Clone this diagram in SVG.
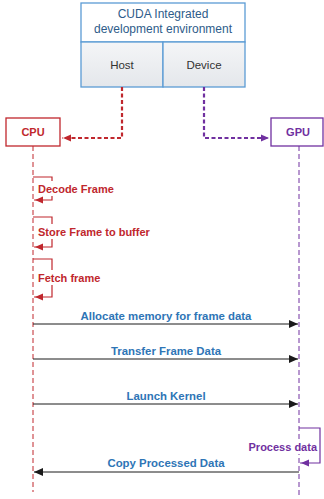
<svg xmlns="http://www.w3.org/2000/svg" width="324" height="499" viewBox="0 0 324 499">
<defs>
<linearGradient id="cellg" x1="0" y1="0" x2="0" y2="1"><stop offset="0" stop-color="#f4f5f7"/><stop offset="1" stop-color="#e4e7eb"/></linearGradient>
<marker id="arrB" markerWidth="10" markerHeight="8" refX="9" refY="4" orient="auto" markerUnits="userSpaceOnUse"><path d="M0,0 L9,4 L0,8 Z" fill="#1a1a1a"/></marker>
<marker id="arrR" markerWidth="10" markerHeight="8" refX="9" refY="4" orient="auto" markerUnits="userSpaceOnUse"><path d="M0,0.5 L8,4 L0,7.5 Z" fill="#c0272d"/></marker>
<marker id="arrP" markerWidth="10" markerHeight="8" refX="9" refY="4" orient="auto" markerUnits="userSpaceOnUse"><path d="M0,0.5 L8,4 L0,7.5 Z" fill="#7030a0"/></marker>
</defs>
<style>
text{font-family:"Liberation Sans",Arial,sans-serif;}
.box{fill:#fff;stroke:#5b9bd5;stroke-width:1.3;}
.cell{fill:url(#cellg);stroke:#5b9bd5;stroke-width:1.3;}
.hdr{font-size:12px;fill:#2e5c8a;text-anchor:middle;}
.cl{font-size:11.5px;fill:#333;text-anchor:middle;}
.red{stroke:#c0272d;fill:none;}
.pur{stroke:#7030a0;fill:none;}
.rt{font-size:11px;font-weight:bold;fill:#c0272d;}
.pt{font-size:11px;font-weight:bold;fill:#7030a0;}
.bt{font-size:11.4px;font-weight:bold;fill:#2e75b6;text-anchor:middle;}
.msg{stroke:#1a1a1a;stroke-width:1;fill:none;}
.bg{fill:#fff;}
</style>
<g id="ide">
<rect class="box" x="81" y="3" width="164" height="39"/>
<rect class="cell" x="81" y="42" width="82" height="45"/>
<rect class="cell" x="163" y="42" width="82" height="45"/>
<text class="hdr" x="163" y="18">CUDA Integrated</text>
<text class="hdr" x="163" y="33">development environment</text>
<text class="cl" x="122" y="69">Host</text>
<text class="cl" x="204" y="69">Device</text>
</g>
<g id="cpu">
<rect x="6" y="118" width="54" height="28" fill="#fff" stroke="#c0272d" stroke-width="1.3"/>
<text x="33" y="136" text-anchor="middle" class="rt" style="font-size:11px">CPU</text>
</g>
<g id="gpu">
<rect x="271" y="118" width="52" height="28" fill="#fff" stroke="#7030a0" stroke-width="1.3"/>
<text x="298" y="136" text-anchor="middle" class="pt" style="font-size:11px">GPU</text>
</g>
<g id="connectors">
<path class="red" d="M122,87 V138 H62" stroke-width="2.2" stroke-dasharray="4,2.5" marker-end="url(#arrR)"/>
<path class="pur" d="M204,87 V138 H270" stroke-width="2.2" stroke-dasharray="4,2.5" marker-end="url(#arrP)"/>
<line class="red" x1="33" y1="146" x2="33" y2="492" stroke-width="1" stroke-dasharray="5,3"/>
<line class="pur" x1="299" y1="146" x2="299" y2="496" stroke-width="1" stroke-dasharray="5,3"/>
<path class="red" d="M33,177 H52 V200 H34" stroke-width="1.2" marker-end="url(#arrR)"/>
<path class="red" d="M33,217 H52 V247 H34" stroke-width="1.2" marker-end="url(#arrR)"/>
<path class="red" d="M33,259 H52 V297 H34" stroke-width="1.2" marker-end="url(#arrR)"/>
<line class="msg" x1="33" y1="324" x2="298" y2="324" marker-end="url(#arrB)"/>
<line class="msg" x1="33" y1="359" x2="298" y2="359" marker-end="url(#arrB)"/>
<line class="msg" x1="33" y1="404" x2="298" y2="404" marker-end="url(#arrB)"/>
<path class="pur" d="M299,428 H320 V463 H300" stroke-width="1.2" marker-end="url(#arrP)"/>
<line class="msg" x1="299" y1="472" x2="34" y2="472" marker-end="url(#arrB)"/>
</g>
<g id="labels">
<rect class="bg" x="37" y="181" width="79" height="15"/>
<text class="rt" x="38" y="192.5">Decode Frame</text>
<rect class="bg" x="37" y="224" width="118" height="15"/>
<text class="rt" x="38" y="235.5">Store Frame to buffer</text>
<rect class="bg" x="37" y="270" width="65" height="15"/>
<text class="rt" x="38" y="281.5">Fetch frame</text>
<rect class="bg" x="81" y="309" width="171" height="13"/>
<text class="bt" x="166" y="320">Allocate memory for frame data</text>
<rect class="bg" x="111" y="344" width="111" height="13"/>
<text class="bt" x="166" y="355">Transfer Frame Data</text>
<rect class="bg" x="128" y="389" width="77" height="13"/>
<text class="bt" x="166" y="400">Launch Kernel</text>
<rect class="bg" x="250" y="440" width="68" height="14"/>
<text class="pt" x="317" y="451" text-anchor="end">Process data</text>
<rect class="bg" x="110" y="456" width="113" height="13"/>
<text class="bt" x="166" y="467">Copy Processed Data</text>
</g>
</svg>
